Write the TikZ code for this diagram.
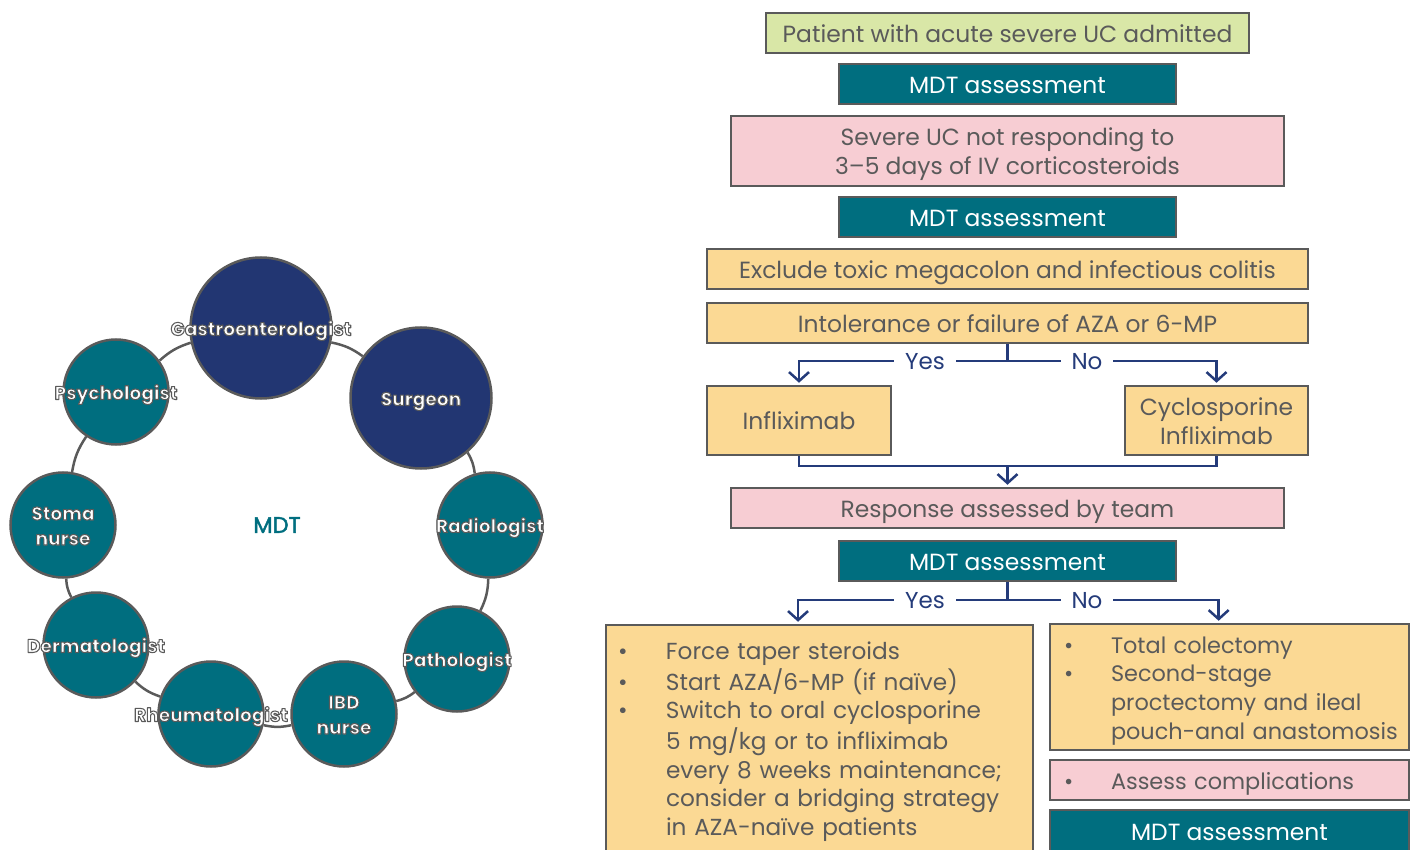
\documentclass[tikz,border=0pt]{standalone}
\usepackage{fontspec}
\setmainfont{Poppins}
\newfontfamily\mdtfont[FakeBold=2]{Poppins}
\usetikzlibrary{arrows.meta,calc}
\definecolor{txt}{HTML}{5A5A5A}
\definecolor{bord}{HTML}{5A5A5A}
\definecolor{cTeal}{HTML}{006E7F}
\definecolor{cNavy}{HTML}{223672}
\definecolor{cGreen}{HTML}{D9E7A7}
\definecolor{cPink}{HTML}{F7CDD3}
\definecolor{cYellow}{HTML}{FBD994}
\definecolor{cArrow}{HTML}{243B7A}
\newcommand\bx[1]{\raisebox{0pt}[\dimexpr\height+3.4pt\relax][\dimexpr\depth-3.4pt\relax]{\begin{tabular}{@{}c@{}}#1\end{tabular}}}
\newcommand\lst[2]{\raisebox{0pt}[\dimexpr\height+3.4pt\relax][\dimexpr\depth-3.4pt\relax]{\begin{tabular}{@{}p{#1}@{}l@{}}#2\end{tabular}}}
% outlined white label: fill + stroke text rendering
\newcommand\clbl[1]{\special{pdf:literal direct 1.05 w 1 j 0.353 0.353 0.353 RG 2 Tr}\raisebox{0pt}[\dimexpr\height+2.5pt\relax][\dimexpr\depth-2.5pt\relax]{\makebox[0pt]{\begin{tabular}{@{}c@{}}#1\end{tabular}}}}
\begin{document}
\begin{tikzpicture}[x=1pt,y=-1pt,
 box/.style={draw=bord, line width=2.5pt, text=txt, font=\fontsize{23.4}{29}\selectfont, align=center, inner sep=0pt},
 mdt/.style={box, fill=cTeal, text=white, minimum width=337pt, minimum height=40pt},
 conn/.style={draw=cArrow, line width=2.5pt},
 arr/.style={conn, -{Straight Barb[length=9pt,width=20pt]}, shorten >=2pt},
 yn/.style={fill=white, text=cArrow, font=\fontsize{23}{27}\selectfont, inner xsep=11pt, inner ysep=0pt},
 circ/.style={circle, draw=bord, line width=2.5pt, inner sep=0pt, align=center, text=white, font=\bfseries\fontsize{18.6}{25}\selectfont},
 big/.style={circ, fill=cNavy, minimum size=141pt},
 small/.style={circ, fill=cTeal, minimum size=105pt},
 ring/.style={draw=bord, line width=2.5pt}
]
\useasboundingbox (0,0) rectangle (1417,850);

% ---- MDT circle ----
\node[big]   (g)   at (261,328) {\clbl{Gastroenterologist}};
\node[big]   (s)   at (421,398) {\clbl{Surgeon}};
\node[small] (r)   at (490,525) {\clbl{Radiologist}};
\node[small] (p)   at (457,659) {\clbl{Pathologist}};
\node[small] (ibd) at (344,714) {\clbl{IBD\\nurse}};
\node[small] (rh)  at (211,714) {\clbl{Rheumatologist}};
\node[small] (d)   at (96,645)  {\clbl{Dermatologist}};
\node[small] (st)  at (63,525)  {\clbl{Stoma\\nurse}};
\node[small] (ps)  at (116,392) {\clbl{Psychologist}};
\node[text=cTeal, font=\mdtfont\fontsize{22.5}{24}\selectfont] (mdtl) at (277,525) {MDT};

\draw[ring] (g) to[bend left=12] (s);
\draw[ring] (s) to[bend left=12] (r);
\draw[ring] (r) to[bend left=12] (p);
\draw[ring] (p) to[bend left=12] (ibd);
\draw[ring] (ibd) to[bend left=12] (rh);
\draw[ring] (rh) to[bend left=12] (d);
\draw[ring] (d) to[bend left=12] (st);
\draw[ring] (st) to[bend left=12] (ps);
\draw[ring] (ps) to[bend left=12] (g);

% ---- Flowchart ----
\node[box, fill=cGreen, minimum width=483pt, minimum height=40pt] (pat) at (1007.5,33) {\bx{Patient with acute severe UC admitted}};
\node[mdt] (m1) at (1007.5,84) {\bx{MDT assessment}};
\node[box, fill=cPink, minimum width=553pt, minimum height=70pt] (sev) at (1007.5,151) {\bx{Severe UC not responding to\\3--5 days of IV corticosteroids}};
\node[mdt] (m2) at (1007.5,217) {\bx{MDT assessment}};
\node[box, fill=cYellow, minimum width=601pt, minimum height=40pt] (exc) at (1007.5,269) {\bx{Exclude toxic megacolon and infectious colitis}};
\node[box, fill=cYellow, minimum width=601pt, minimum height=40pt] (int) at (1007.5,323) {\bx{Intolerance or failure of AZA or 6-MP}};
\node[box, fill=cYellow, minimum width=184pt, minimum height=69pt] (inf) at (799,420.5) {\bx{Infliximab}};
\node[box, fill=cYellow, minimum width=183pt, minimum height=69pt] (cyc) at (1216.5,420.5) {\bx{Cyclosporine\\Infliximab}};
\node[box, fill=cPink, minimum width=553pt, minimum height=40pt] (resp) at (1007.5,508) {\bx{Response assessed by team}};
\node[mdt] (m3) at (1007.5,561) {\bx{MDT assessment}};

\node[box, fill=cYellow, minimum width=427pt, minimum height=227pt, text width=403pt, align=left, inner xsep=12pt, font=\fontsize{23.2}{28.7}\selectfont] (lb) at (819.5,738.5)
 {\lst{48pt}{%
 \textbullet & Force taper steroids\\
 \textbullet & Start AZA/6-MP (if naïve)\\
 \textbullet & Switch to oral cyclosporine\\
  & 5 mg/kg or to infliximab\\
  & every 8 weeks maintenance;\\
  & consider a bridging strategy\\
  & in AZA-naïve patients}};
\node[box, fill=cYellow, minimum width=359pt, minimum height=126pt, text width=331pt, align=left, inner xsep=14pt, font=\fontsize{22.4}{28.7}\selectfont] (rb) at (1229.5,687)
 {\lst{47pt}{%
 \textbullet & Total colectomy\\
 \textbullet & Second-stage\\
  & proctectomy and ileal\\
  & pouch-anal anastomosis}};
\node[box, fill=cPink, minimum width=359pt, minimum height=40pt, text width=331pt, align=left, inner xsep=14pt, font=\fontsize{22.4}{28.7}\selectfont] (ac) at (1229.5,780)
 {\lst{47pt}{\textbullet & Assess complications}};
\node[box, fill=cTeal, text=white, minimum width=359pt, minimum height=42pt] (m4) at (1229.5,831) {\bx{MDT assessment}};

% connectors
\coordinate (j1) at (1007.5,361);
\draw[conn] (int.south) -- (j1);
\draw[arr] (j1) -| (inf.north);
\draw[arr] (j1) -| (cyc.north);
\node[yn] (y1) at (925,361) {\bx{Yes}};
\node[yn] (n1) at (1087,361) {\bx{No}};

\coordinate (mg) at (1007.5,466);
\draw[conn] (inf.south) |- (mg) -| (cyc.south);
\draw[arr] (mg) -- (resp.north);

\coordinate (j2) at (1007.5,600);
\draw[conn] (m3.south) -- (j2);
\draw[arr] (j2) -| ($(lb.north west)!0.45!(lb.north east)$);
\draw[arr] (j2) -| ($(rb.north west)!0.47!(rb.north east)$);
\node[yn] (y2) at (925,600) {\bx{Yes}};
\node[yn] (n2) at (1087,600) {\bx{No}};
\end{tikzpicture}
\end{document}
